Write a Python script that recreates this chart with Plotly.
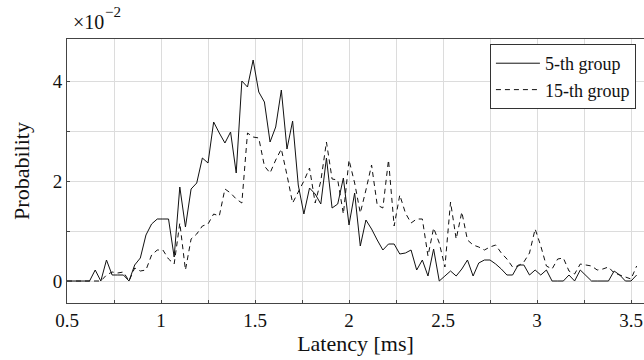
import plotly.graph_objects as go

latency_ms = [
    0.50, 0.53, 0.56, 0.59, 0.62, 0.65, 0.68, 0.71, 0.74, 0.77,
    0.80, 0.83, 0.86, 0.89, 0.92, 0.95, 0.98, 1.01, 1.04, 1.07,
    1.10, 1.13, 1.16, 1.19, 1.22, 1.25, 1.28, 1.31, 1.34, 1.37,
    1.40, 1.43, 1.46, 1.49, 1.52, 1.55, 1.58, 1.61, 1.64, 1.67,
    1.70, 1.73, 1.76, 1.79, 1.82, 1.85, 1.88, 1.91, 1.94, 1.97,
    2.00, 2.03, 2.06, 2.09, 2.12, 2.15, 2.18, 2.21, 2.24, 2.27,
    2.30, 2.33, 2.36, 2.39, 2.42, 2.45, 2.48, 2.51, 2.54, 2.57,
    2.60, 2.63, 2.66, 2.69, 2.72, 2.75, 2.78, 2.81, 2.84, 2.87,
    2.90, 2.93, 2.96, 2.99, 3.02, 3.05, 3.08, 3.11, 3.14, 3.17,
    3.20, 3.23, 3.26, 3.29, 3.32, 3.35, 3.38, 3.41, 3.44, 3.47,
    3.50, 3.53,
]

# probabilities in units of 1e-2
group5_prob = [
    0, 0, 0, 0, 0, 0.22, 0, 0.42, 0.12, 0.12,
    0.12, 0, 0.32, 0.46, 0.92, 1.14, 1.24, 1.24, 1.24, 0.48,
    1.88, 1.08, 1.84, 1.96, 2.46, 2.36, 3.18, 2.96, 2.76, 2.98,
    2.16, 4.0, 3.88, 4.42, 3.78, 3.58, 2.78, 3.08, 3.82, 2.64,
    3.2, 1.92, 1.34, 1.86, 1.74, 1.54, 2.46, 1.46, 1.54, 2.06,
    1.12, 1.76, 0.7, 1.22, 1.04, 0.82, 0.62, 0.74, 0.74, 0.54,
    0.56, 0.62, 0.22, 0.42, 0.1, 0.64, 0, 0.1, 0.2, 0.1,
    0.24, 0.42, 0.1, 0.36, 0.42, 0.42, 0.34, 0.24, 0.12, 0.12,
    0.32, 0.32, 0.12, 0.22, 0.12, 0.22, 0, 0, 0, 0.12,
    0, 0.22, 0.1, 0, 0, 0, 0, 0.2, 0.12, 0,
    0, 0.12,
]

group15_prob = [
    0, 0, 0, 0, 0, 0, 0, 0.12, 0.18, 0.16,
    0.18, 0, 0.26, 0.2, 0.22, 0.52, 0.62, 0.62, 0.44, 0.34,
    1.16, 0.22, 0.84, 0.94, 1.1, 1.14, 1.34, 1.3, 1.84, 1.76,
    1.64, 1.56, 2.96, 2.88, 2.86, 2.3, 2.16, 2.42, 2.64, 2.12,
    1.56, 1.78, 2.0, 2.26, 1.56, 2.0, 2.78, 2.04, 2.02, 1.34,
    2.42, 1.96, 1.36, 1.82, 2.32, 1.52, 1.46, 2.42, 1.1, 1.72,
    1.36, 1.16, 1.24, 1.24, 0.5, 1.06, 0.76, 0.28, 1.58, 0.84,
    1.38, 0.82, 0.72, 0.68, 0.62, 0.68, 0.72, 0.56, 0.44, 0.28,
    0.3, 0.38, 0.56, 1.04, 0.7, 0.3, 0.24, 0.44, 0.46, 0.2,
    0.14, 0.34, 0.32, 0.3, 0.22, 0.24, 0.28, 0.16, 0.12, 0.08,
    0.04, 0.3,
]

series_names = ["5-th group", "15-th group"]

x_tickvals = [0.5, 0.75, 1.0, 1.25, 1.5, 1.75, 2.0, 2.25, 2.5, 2.75, 3.0, 3.25, 3.5]
x_ticktext = ["0.5", " ", "1", " ", "1.5", " ", "2", " ", "2.5", " ", "3", " ", "3.5"]
y_tickvals = [0, 1, 2, 3, 4]
y_ticktext = ["0", " ", "2", " ", "4"]

FONT = "Liberation Serif, Times New Roman, serif"

fig = go.Figure()
fig.add_trace(go.Scatter(x=latency_ms, y=group5_prob, mode="lines", name=series_names[0],
                         line=dict(color="#111", width=1)))
fig.add_trace(go.Scatter(x=latency_ms, y=group15_prob, mode="lines", name=series_names[1],
                         line=dict(color="#111", width=1, dash="5px,4px")))

fig.update_layout(
    width=644, height=360,
    margin=dict(l=67, r=0, t=39, b=57),
    paper_bgcolor="white", plot_bgcolor="white",
    font=dict(family=FONT, size=18, color="#111"),
    showlegend=True,
    legend=dict(x=0.986, y=0.981, xanchor="right", yanchor="top",
                bgcolor="white", bordercolor="#333", borderwidth=1,
                font=dict(family=FONT, size=18), itemwidth=44,
                tracegroupgap=0),
    xaxis=dict(range=[0.5, 3.569], tickvals=x_tickvals, ticktext=x_ticktext,
               showgrid=True, gridcolor="#dcdcdc", gridwidth=1,
               zeroline=False, showline=True, linecolor="#444", linewidth=1,
               mirror=True, ticks="inside", ticklen=3, tickcolor="#444",
               tickfont=dict(size=19),
               title=dict(text="Latency [ms]", standoff=5)),
    yaxis=dict(range=[-0.44, 4.84], tickvals=y_tickvals, ticktext=y_ticktext,
               showgrid=True, gridcolor="#dcdcdc", gridwidth=1,
               zeroline=False, showline=True, linecolor="#444", linewidth=1,
               mirror=False, ticks="inside", ticklen=3, tickcolor="#444",
               tickfont=dict(size=19),
               title=dict(text="Probability", standoff=17)),
)

fig.add_annotation(text="×10", xref="paper", yref="paper",
                   x=0.0, y=1.0, xanchor="left", yanchor="bottom", xshift=4, yshift=4,
                   showarrow=False, font=dict(family=FONT, size=20))
fig.add_annotation(text="−2", xref="paper", yref="paper",
                   x=0.0, y=1.0, xanchor="left", yanchor="bottom", xshift=36, yshift=17,
                   showarrow=False, font=dict(family=FONT, size=15))

fig.write_html("out.html")
